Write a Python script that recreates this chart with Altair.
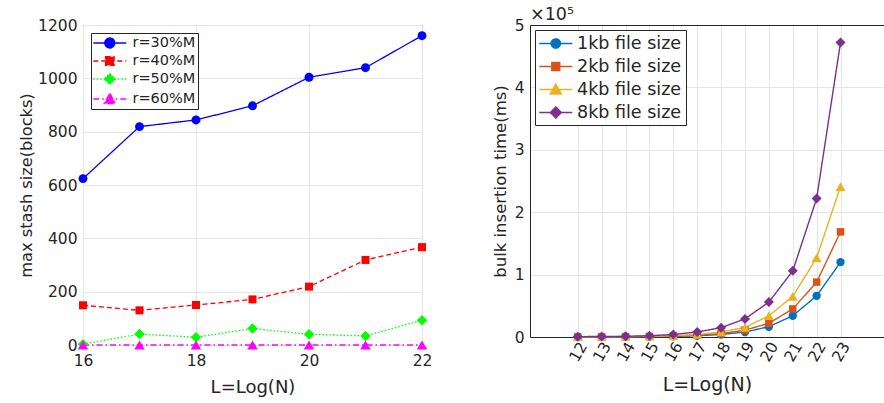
import altair as alt
import pandas as pd

FONT = "DejaVu Sans"
TXT = "#262626"
GRID = "#e6e6e6"

# ---------------- left panel data ----------------
L_x = [16, 17, 18, 19, 20, 21, 22]
L_names = ["r=30%M", "r=40%M", "r=50%M", "r=60%M"]
r30 = [624, 819, 844, 897, 1004, 1040, 1160]
r40 = [149, 130, 150, 171, 219, 319, 367]
r50 = [3, 41, 29, 62, 40, 34, 93]
r60 = [0, 0, 0, 0, 0, 0, 0]
L_colors = ["#0000ff", "#ff0000", "#00ff00", "#ff00ff"]
L_shapes = ["circle", "square", "diamond", "triangle-up"]
L_sizes = [80, 64, 110, 110]
L_dashes = [[1, 0], [5, 3], [1.5, 2], [6, 3, 1.5, 3]]
L_xticks = [16, 18, 20, 22]
L_yticks = [0, 200, 400, 600, 800, 1000, 1200]

# ---------------- right panel data ----------------
R_x = [12, 13, 14, 15, 16, 17, 18, 19, 20, 21, 22, 23]
R_names = ["1kb file size", "2kb file size", "4kb file size", "8kb file size"]
kb1 = [200, 300, 400, 600, 1000, 2000, 4000, 8000, 16500, 34000, 66000, 120000]
kb2 = [300, 400, 600, 900, 1400, 3000, 5500, 11000, 22000, 45000, 88000, 168500]
kb4 = [400, 500, 800, 1200, 2000, 4000, 8000, 15500, 34000, 65000, 127000, 241000]
kb8 = [600, 800, 1100, 2000, 4000, 8000, 15000, 29000, 56000, 106000, 222000, 472000]
R_colors = ["#0072BD", "#D95319", "#EDB120", "#7E2F8E"]
R_shapes = ["circle", "square", "triangle-up", "diamond"]
R_sizes = [70, 56, 100, 100]
R_dashes = [[1, 0], [1, 0], [1, 0], [1, 0]]
R_yticks = [0, 100000, 200000, 300000, 400000, 500000]

SEG = 33.0  # legend line-sample length in px


def long_df(xs, names, series):
    rows = []
    for name, vals in zip(names, series):
        for x, v in zip(xs, vals):
            rows.append({"x": x, "y": v, "series": name})
    return pd.DataFrame(rows)


def legend_path(shape, m_px, h):
    # path units: 1 unit = h/2 px ; a horizontal line SEG px long through a marker
    u = h / 2.0
    L = round(SEG / 2.0 / u, 3)
    m = round(m_px / u, 3)
    base = f"M{-L},0L{L},0"
    if shape == "circle":
        return f"{base}M{-m},0A{m},{m},0,1,0,{m},0A{m},{m},0,1,0,{-m},0Z"
    if shape == "square":
        return f"{base}M{-m},{-m}L{m},{-m}L{m},{m}L{-m},{m}Z"
    if shape == "diamond":
        return f"{base}M0,{-m}L{m},0L0,{m}L{-m},0Z"
    return f"{base}M0,{-m}L{m},{round(m * 0.8, 3)}L{-m},{round(m * 0.8, 3)}Z"


def panel_layers(df, names, colors, shapes, sizes, dashes, marks_px, x_line, x_pts, y, width,
                 pos, fsize, rowpad, pad, h):
    sym_off = round(SEG / 2.0 - (h + 1.3) / 2.0, 1)
    lab_off = round(SEG - 3 - (h + 1.3), 1)
    leg = alt.Legend(title=None, orient="top-left", offset=pos, padding=pad, rowPadding=rowpad,
                     labelFont=FONT, labelFontSize=fsize, labelColor=TXT, labelOffset=lab_off,
                     labelLimit=400, fillColor="white", strokeColor=TXT, symbolSize=h * h,
                     symbolStrokeWidth=1.3, symbolOffset=sym_off)
    fill = alt.Fill("series:N", scale=alt.Scale(domain=names, range=colors), legend=leg)
    layers = [alt.Chart(df).mark_line(strokeWidth=width).encode(
        x=x_line, y=y,
        color=alt.Color("series:N", scale=alt.Scale(domain=names, range=colors), legend=leg),
        strokeDash=alt.StrokeDash("series:N", scale=alt.Scale(domain=names, range=dashes), legend=leg),
    )]
    for name, shp, sz in zip(names, shapes, sizes):
        layers.append(alt.Chart(df).transform_filter(alt.datum.series == name)
                      .mark_point(filled=True, opacity=1, shape=shp, size=sz)
                      .encode(x=x_pts, y=y, fill=fill))
    paths = [legend_path(s, m, h) for s, m in zip(shapes, marks_px)]
    layers.append(alt.Chart(df).mark_point(filled=True, opacity=0).encode(
        x=x_pts, y=y, fill=fill,
        shape=alt.Shape("series:N", scale=alt.Scale(domain=names, range=paths), legend=leg),
    ))
    return layers


# ---------------- left chart ----------------
ldf = long_df(L_x, L_names, [r30, r40, r50, r60])
lx = alt.X("x:Q", scale=alt.Scale(domain=[16, 22], nice=False, zero=False),
           axis=alt.Axis(values=L_xticks, format="d", title="L=Log(N)", domain=False, labelPadding=8,
                         titlePadding=10, titleFontSize=18, labelFlush=False))
ly = alt.Y("y:Q", scale=alt.Scale(domain=[0, 1200], nice=False),
           axis=alt.Axis(values=L_yticks, format="d", title="max stash size(blocks)", domain=False,
                         labelPadding=6, titlePadding=3, titleFontSize=16.2))
l_layers = panel_layers(ldf, L_names, L_colors, L_shapes, L_sizes, L_dashes, [5, 4.3, 5.6, 5.6],
                        lx, lx, ly, 1.3, 8, 14.5, 2, 2, 14)
left = alt.layer(*l_layers).properties(
    width=339, height=320, view=alt.ViewBackground(stroke=TXT, strokeWidth=1)
)

# ---------------- right chart ----------------
rdf = long_df(R_x, R_names, [kb1, kb2, kb4, kb8])
rscale_x = alt.Scale(domain=[10, 24.82], nice=False, zero=False)
rx_bottom = alt.X("x:Q", scale=rscale_x,
                  axis=alt.Axis(values=R_x, format="d", title="L=Log(N)", domain=True, labelAngle=-60,
                                labelPadding=6, labelOffset=5, titlePadding=11, titleFontSize=19,
                                labelFlush=False))
rx_none = alt.X("x:Q", scale=rscale_x, axis=None)
rx_top = alt.X("x:Q", scale=rscale_x,
               axis=alt.Axis(orient="top", values=R_x, labels=False, grid=False, title=None, domain=True))
ry = alt.Y("y:Q", scale=alt.Scale(domain=[0, 500000], nice=False),
           axis=alt.Axis(values=R_yticks, labelExpr="datum.value / 100000", title="bulk insertion time(ms)",
                         domain=True, labelPadding=6, titlePadding=6, titleFontSize=16.5))
r_layers = panel_layers(rdf, R_names, R_colors, R_shapes, R_sizes, R_dashes, [4.7, 4, 5.6, 5.6],
                        rx_bottom, rx_none, ry, 1.4, 5, 17.5, 5, 4, 17)
r_top = alt.Chart(rdf).transform_filter("false").mark_point().encode(x=rx_top, y=ry)
right = alt.layer(*r_layers, r_top).resolve_axis(x="independent").properties(
    width=354, height=312,
    title=alt.TitleParams("×10⁵", anchor="start", frame="group", fontSize=17.5, font=FONT,
                          fontWeight="normal", color=TXT, offset=0, dy=5),
)

chart = alt.hconcat(left, right, spacing=108, bounds="flush").resolve_scale(
    color="independent", shape="independent", strokeDash="independent", fill="independent",
).properties(
    padding={"left": 18, "top": 5, "right": 0, "bottom": 0}, background="white"
).configure_view(stroke=None).configure_axis(
    labelFont=FONT, titleFont=FONT, labelFontSize=15.5, labelColor=TXT, titleColor=TXT,
    titleFontWeight="normal", gridColor=GRID, gridWidth=1, domainColor=TXT, domainWidth=1,
    ticks=False,
)

chart.save("out.html", embed_options={"renderer": "svg", "actions": False})
